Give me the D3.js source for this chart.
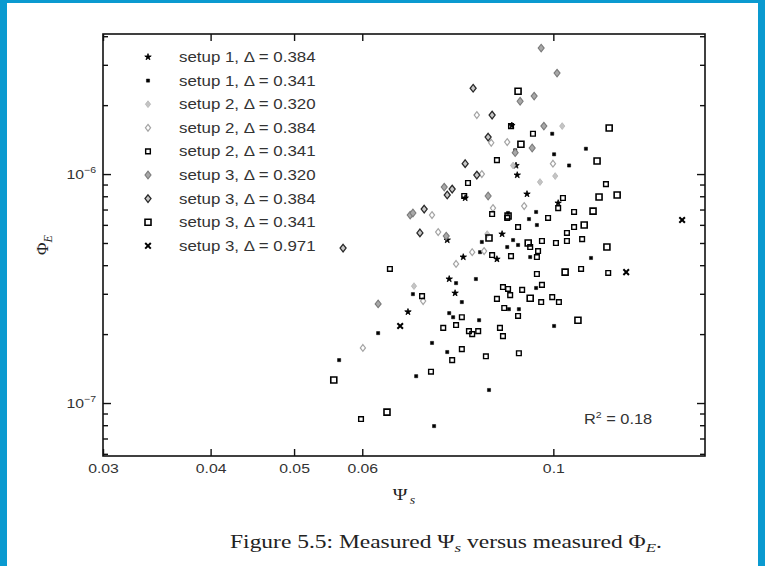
<!DOCTYPE html>
<html>
<head>
<meta charset="utf-8">
<script src="https://cdn.jsdelivr.net/npm/d3@7"></script>
<style>
  body { margin: 0; background: #fff; }
  svg { display: block; }
  .sans { font-family: "Liberation Sans", Arial, sans-serif; fill: #333; }
  .serif { font-family: "Liberation Serif", "DejaVu Serif", serif; fill: #222; }
</style>
</head>
<body>
<div id="chart"></div>
<script>
// each point is [Psi_s, Phi_E]
const setup1_384 = [[0.0895,1.63e-6],[0.0905,1.09e-6],[0.0908,9.90e-7],[0.0790,7.86e-7],[0.0932,8.18e-7],
  [0.1013,7.47e-7],[0.0753,5.15e-7],[0.0786,4.34e-7],[0.0860,4.25e-7],[0.0872,5.47e-7],[0.0757,3.48e-7],
  [0.0769,3.02e-7],[0.0678,2.50e-7]];
const setup1_341 = [[0.0997,1.50e-6],[0.0903,1.27e-6],[0.1091,1.29e-6],[0.1002,1.22e-6],[0.1043,1.09e-6],
  [0.0886,6.76e-7],[0.0955,6.83e-7],[0.0937,6.36e-7],[0.0957,5.99e-7],[0.0822,4.56e-7],[0.0826,5.05e-7],
  [0.0884,4.80e-7],[0.0898,5.15e-7],[0.0910,4.90e-7],[0.0940,4.34e-7],[0.1106,4.30e-7],[0.0771,3.34e-7],
  [0.0813,3.48e-7],[0.0687,2.99e-7],[0.0783,2.76e-7],[0.0955,3.18e-7],[0.0888,2.57e-7],[0.0912,2.57e-7],
  [0.0757,2.47e-7],[0.0765,2.37e-7],[0.0820,2.30e-7],[0.1002,2.17e-7],[0.0626,2.02e-7],[0.0723,1.83e-7],
  [0.0753,1.67e-7],[0.0564,1.54e-7],[0.0693,1.31e-7],[0.0842,1.14e-7],[0.0727,7.93e-8]];
const setup2_320 = [[0.1024,1.62e-6],[0.0898,1.09e-6],[0.1005,9.80e-7],[0.0965,9.23e-7],[0.0838,5.47e-7],
  [0.0689,3.24e-7]];
const setup2_384 = [[0.0815,1.81e-6],[0.0847,1.37e-6],[0.0884,1.38e-6],[0.0999,1.11e-6],[0.0826,1.00e-6],
  [0.0925,7.25e-7],[0.0851,7.10e-7],[0.0723,6.62e-7],[0.0735,5.58e-7],[0.0771,4.05e-7],[0.0805,4.56e-7],
  [0.0831,4.61e-7],[0.0706,2.79e-7],[0.0601,1.74e-7]];
const setup2_341 = [[0.0893,1.62e-6],[0.0947,1.50e-6],[0.0860,1.15e-6],[0.0796,9.14e-7],[0.1151,9.04e-7],
  [0.0788,8.02e-7],[0.1026,7.86e-7],[0.1013,7.10e-7],[0.0849,6.69e-7],[0.0884,6.43e-7],[0.1057,6.83e-7],
  [0.0986,6.43e-7],[0.0910,5.87e-7],[0.1057,5.87e-7],[0.1037,5.53e-7],[0.0849,4.43e-7],[0.0893,4.38e-7],
  [0.0940,4.80e-7],[0.0957,4.34e-7],[0.0960,4.61e-7],[0.0970,5.10e-7],[0.1007,5.00e-7],[0.1037,5.10e-7],
  [0.1080,5.20e-7],[0.0646,3.85e-7],[0.0957,3.66e-7],[0.1077,3.85e-7],[0.1158,3.70e-7],[0.0704,2.93e-7],
  [0.0874,3.21e-7],[0.0886,3.15e-7],[0.0891,2.96e-7],[0.0920,3.12e-7],[0.0970,3.28e-7],[0.0860,2.85e-7],
  [0.0968,2.76e-7],[0.0997,2.90e-7],[0.1015,2.76e-7],[0.0877,2.60e-7],[0.0910,2.40e-7],[0.0783,2.37e-7],
  [0.0771,2.19e-7],[0.0745,2.13e-7],[0.0798,2.06e-7],[0.0805,2.00e-7],[0.0818,2.06e-7],[0.0867,2.13e-7],
  [0.0874,1.96e-7],[0.0783,1.72e-7],[0.0763,1.54e-7],[0.0835,1.60e-7],[0.0912,1.65e-7],[0.0721,1.37e-7],
  [0.0598,8.51e-8]];
const setup3_320 = [[0.0968,3.55e-6],[0.1010,2.76e-6],[0.0915,2.08e-6],[0.0950,2.19e-6],[0.0975,1.62e-6],
  [0.0945,1.30e-6],[0.0903,1.24e-6],[0.0747,8.77e-7],[0.0840,8.02e-7],[0.0682,6.62e-7],[0.0687,6.76e-7],
  [0.0751,5.36e-7],[0.0626,2.71e-7]];
const setup3_384 = [[0.0807,2.37e-6],[0.0849,1.81e-6],[0.0840,1.45e-6],[0.0790,1.11e-6],[0.0815,9.90e-7],
  [0.0763,8.60e-7],[0.0753,8.10e-7],[0.0708,7.03e-7],[0.0700,5.53e-7],[0.0570,4.75e-7]];
const setup3_341 = [[0.0910,2.30e-6],[0.1161,1.59e-6],[0.0917,1.35e-6],[0.1124,1.14e-6],[0.1130,7.94e-7],
  [0.1186,8.10e-7],[0.0886,6.56e-7],[0.1112,6.89e-7],[0.1086,5.99e-7],[0.0842,5.26e-7],[0.0935,5.00e-7],
  [0.1154,4.80e-7],[0.1032,3.73e-7],[0.0940,2.87e-7],[0.1068,2.30e-7],[0.0556,1.26e-7],[0.0641,9.13e-8]];
const setup3_971 = [[0.1411,6.30e-7],[0.1215,3.73e-7],[0.0664,2.17e-7]];

const legendLabels = ["setup 1, Δ = 0.384", "setup 1, Δ = 0.341", "setup 2, Δ = 0.320",
  "setup 2, Δ = 0.384", "setup 2, Δ = 0.341", "setup 3, Δ = 0.320", "setup 3, Δ = 0.384",
  "setup 3, Δ = 0.341", "setup 3, Δ = 0.971"];
const xTicks = [0.03, 0.04, 0.05, 0.06, 0.1];
const yMajorTicks = [1e-7, 1e-6];
const yMinorTicks = [6e-8, 7e-8, 8e-8, 9e-8, 2e-7, 3e-7, 4e-7, 5e-7, 6e-7, 7e-7, 8e-7, 9e-7, 2e-6, 3e-6, 4e-6];
const yTickLabels = ["-7", "-6"];
const r2Text = "0.18";

const width = 765, height = 566;
const plot = {left: 103, right: 705, top: 34, bottom: 456};
const stretch = "scale(1.17,1)";

const svg = d3.select("#chart").append("svg")
  .attr("width", width).attr("height", height);

svg.append("rect").attr("width", width).attr("height", height).attr("fill", "#fff");

// blue page border
svg.append("rect").attr("x", 0).attr("y", 0).attr("width", 7).attr("height", height).attr("fill", "#0a9ad0");
svg.append("rect").attr("x", 0).attr("y", 0).attr("width", width).attr("height", 3).attr("fill", "#0a9ad0");
svg.append("rect").attr("x", width - 7).attr("y", 0).attr("width", 7).attr("height", height).attr("fill", "#0a9ad0");

const x = d3.scaleLog().domain([0.03, 0.15]).range([plot.left, plot.right]);
const y = d3.scaleLog().domain([5.87e-8, 4.09e-6]).range([plot.bottom, plot.top]);

// axes, ticks pointing inward
const xBottom = svg.append("g").attr("transform", `translate(0,${plot.bottom})`)
  .call(d3.axisBottom(x).tickValues(xTicks).tickFormat(d => String(d)).tickSize(-7).tickPadding(7));
const xTop = svg.append("g").attr("transform", `translate(0,${plot.top})`)
  .call(d3.axisTop(x).tickValues(xTicks).tickFormat("").tickSize(-7));
const yLeft = svg.append("g").attr("transform", `translate(${plot.left},0)`)
  .call(d3.axisLeft(y).tickValues(yMajorTicks).tickFormat("").tickSize(-8));
const yLeftMinor = svg.append("g").attr("transform", `translate(${plot.left},0)`)
  .call(d3.axisLeft(y).tickValues(yMinorTicks).tickFormat("").tickSize(-5));
const yRight = svg.append("g").attr("transform", `translate(${plot.right},0)`)
  .call(d3.axisRight(y).tickValues(yMajorTicks).tickFormat("").tickSize(-8));
const yRightMinor = svg.append("g").attr("transform", `translate(${plot.right},0)`)
  .call(d3.axisRight(y).tickValues(yMinorTicks).tickFormat("").tickSize(-5));

[xBottom, xTop, yLeft, yLeftMinor, yRight, yRightMinor].forEach(g => {
  g.select(".domain").remove();
  g.selectAll(".tick line").attr("stroke", "#111").attr("stroke-width", 1.4);
});
xBottom.selectAll(".tick text")
  .attr("class", "sans").attr("font-size", 13.5).attr("fill", "#333")
  .attr("transform", stretch);

// y labels 10^-n
yMajorTicks.forEach((v, i) => {
  const t = svg.append("text").attr("class", "sans")
    .attr("transform", `translate(${plot.left - 7},${y(v) + 5}) ${stretch}`)
    .attr("text-anchor", "end").attr("font-size", 13.5);
  t.append("tspan").text("10");
  t.append("tspan").attr("dy", -6).attr("font-size", 9).text(yTickLabels[i].replace("-", "\u2212"));
});

svg.append("rect")
  .attr("x", plot.left).attr("y", plot.top)
  .attr("width", plot.right - plot.left).attr("height", plot.bottom - plot.top)
  .attr("fill", "none").attr("stroke", "#111").attr("stroke-width", 1.6);

// custom marker shapes (size is ignored, dims are fixed)
const diamond = (w, h) => ({draw(ctx) {
  ctx.moveTo(0, -h); ctx.lineTo(w, 0); ctx.lineTo(0, h); ctx.lineTo(-w, 0); ctx.closePath(); }});
const cross = r => ({draw(ctx) {
  ctx.moveTo(-r, -r); ctx.lineTo(r, r); ctx.moveTo(-r, r); ctx.lineTo(r, -r); }});

const styles = [
  {type: d3.symbolStar, size: 13, fill: "#000", stroke: "#000", sw: 0.8},
  {type: d3.symbolSquare, size: 10, fill: "#000", stroke: "#000", sw: 0.5},
  {type: diamond(2.6, 3.4), size: 1, fill: "#c4c4c4", stroke: "#b4b4b4", sw: 0.8},
  {type: diamond(2.6, 3.4), size: 1, fill: "#fff", stroke: "#a4a4a4", sw: 1.2},
  {type: d3.symbolSquare, size: 22, fill: "none", stroke: "#000", sw: 1.4},
  {type: diamond(3, 3.8), size: 1, fill: "#a8a8a8", stroke: "#7a7a7a", sw: 1.1},
  {type: diamond(3, 3.8), size: 1, fill: "#c8c8c8", stroke: "#2a2a2a", sw: 1.3},
  {type: d3.symbolSquare, size: 36, fill: "none", stroke: "#000", sw: 1.6},
  {type: cross(2.8), size: 1, fill: "none", stroke: "#000", sw: 2}
];
const seriesData = [setup1_384, setup1_341, setup2_320, setup2_384, setup2_341,
  setup3_320, setup3_384, setup3_341, setup3_971];

const series = legendLabels.map((label, i) => ({label, data: seriesData[i], style: styles[i]}));

series.forEach(s => {
  svg.append("g").selectAll("path")
    .data(s.data)
    .join("path")
    .attr("transform", d => `translate(${x(d[0])},${y(d[1])})`)
    .attr("d", d3.symbol().type(s.style.type).size(s.style.size))
    .attr("fill", s.style.fill)
    .attr("stroke", s.style.stroke)
    .attr("stroke-width", s.style.sw);
});

// stretch a text horizontally so it spans the given width
function fitWidth(t, px, py, target) {
  const w = t.node().getBBox().width;
  t.attr("transform", `translate(${px},${py}) scale(${target / w},1)`);
}

// legend
const legend = svg.append("g");
series.forEach((s, i) => {
  const ly = 57 + i * 23.6;
  legend.append("path")
    .attr("transform", `translate(148,${ly})`)
    .attr("d", d3.symbol().type(s.style.type).size(s.style.size))
    .attr("fill", s.style.fill).attr("stroke", s.style.stroke).attr("stroke-width", s.style.sw);
  const t = legend.append("text").attr("class", "sans")
    .attr("font-size", 14).text(s.label);
  fitWidth(t, 179, ly + 5, 137);
});

// R^2 annotation
const r2 = svg.append("text").attr("class", "sans")
  .attr("transform", `translate(584,424) ${stretch}`).attr("font-size", 14);
r2.append("tspan").text("R");
r2.append("tspan").attr("dy", -6).attr("font-size", 9).text("2");
r2.append("tspan").attr("dy", 6).text(" = " + r2Text);

// axis titles
const xt = svg.append("text").attr("class", "serif")
  .attr("transform", `translate(${(plot.left + plot.right) / 2},500) ${stretch}`)
  .attr("text-anchor", "middle").attr("font-size", 17);
xt.append("tspan").text("Ψ");
xt.append("tspan").attr("dy", 4).attr("dx", 2).attr("font-size", 12).attr("font-style", "italic").text("s");

const yt = svg.append("text").attr("class", "serif")
  .attr("transform", `translate(48,${(plot.top + plot.bottom) / 2}) rotate(-90)`)
  .attr("text-anchor", "middle").attr("font-size", 17);
yt.append("tspan").text("Φ");
yt.append("tspan").attr("dy", 4).attr("font-size", 12).attr("font-style", "italic").text("E");

// caption
const cap = svg.append("text").attr("class", "serif")
  .attr("text-anchor", "middle").attr("font-size", 18);
cap.append("tspan").text("Figure 5.5: Measured Ψ");
cap.append("tspan").attr("dy", 4).attr("font-size", 13).attr("font-style", "italic").text("s");
cap.append("tspan").attr("dy", -4).text(" versus measured Φ");
cap.append("tspan").attr("dy", 4).attr("font-size", 13).attr("font-style", "italic").text("E");
cap.append("tspan").attr("dy", -4).text(".");
fitWidth(cap, 446, 548, 432);
</script>
</body>
</html>
